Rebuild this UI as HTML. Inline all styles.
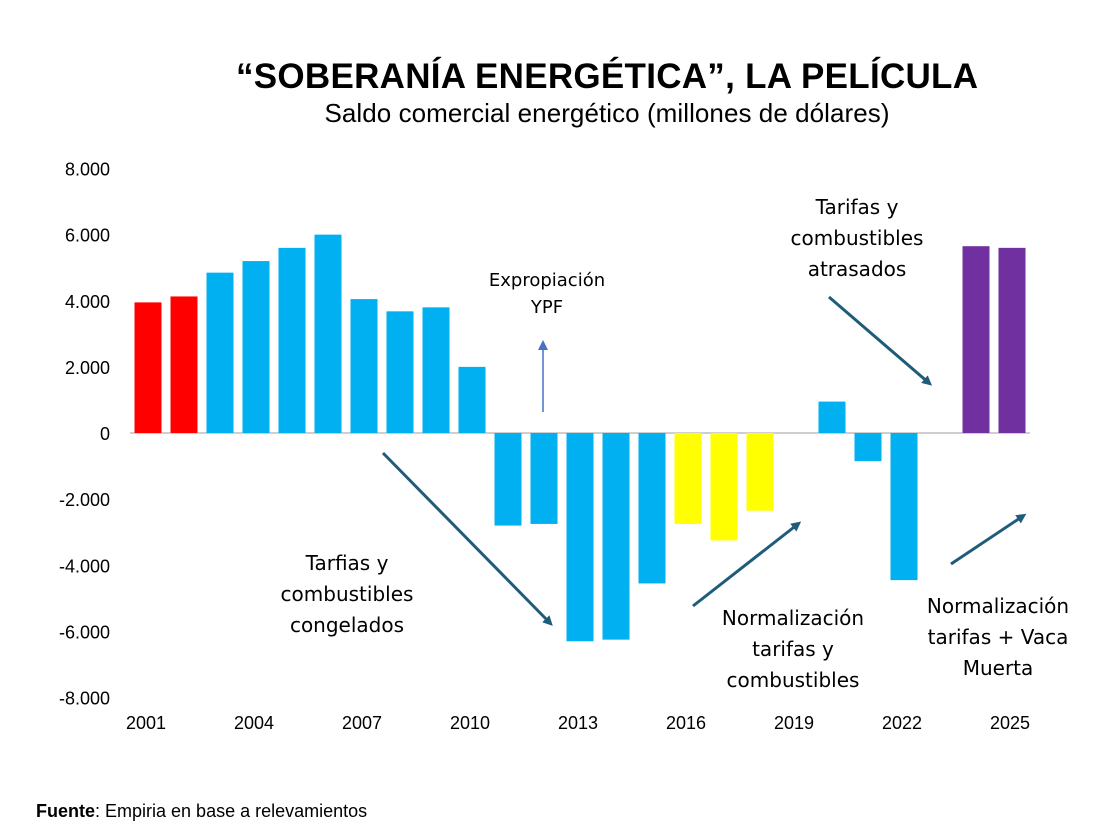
<!DOCTYPE html>
<html><head><meta charset="utf-8"><style>
body{margin:0;background:#fff;}
svg text{font-family:"Liberation Sans","DejaVu Sans",sans-serif;}
svg .ann{font-family:"DejaVu Sans","Liberation Sans",sans-serif;}
</style></head><body>
<svg width="1096" height="830" viewBox="0 0 1096 830" xmlns="http://www.w3.org/2000/svg">
<defs>
<marker id="ah" markerWidth="10" markerHeight="10" refX="6" refY="5" orient="auto" markerUnits="userSpaceOnUse"><path d="M0,0 L10,5 L0,10 z" fill="#1F5C7A"/></marker>
<marker id="ahb" markerWidth="10" markerHeight="12" refX="6" refY="5" orient="auto" markerUnits="userSpaceOnUse"><path d="M0,0 L10,5 L0,10 z" fill="#4472C4"/></marker>
</defs>
<text x="607" y="88" text-anchor="middle" font-size="35" font-weight="bold" textLength="742">“SOBERANÍA ENERGÉTICA”, LA PELÍCULA</text>
<text x="607" y="122" text-anchor="middle" font-size="26" textLength="565">Saldo comercial energético (millones de dólares)</text>
<g id="yaxis"></g>
<g id="xaxis"></g>
<line x1="130" y1="433" x2="1030" y2="433" stroke="#BFBFBF" stroke-width="1.5"/>
<g id="bars"></g>
<line x1="383" y1="453" x2="550" y2="623" stroke="#1F5C7A" stroke-width="3" marker-end="url(#ah)"/>
<line x1="693" y1="606" x2="798" y2="524" stroke="#1F5C7A" stroke-width="3" marker-end="url(#ah)"/>
<line x1="829" y1="297" x2="929" y2="383" stroke="#1F5C7A" stroke-width="3" marker-end="url(#ah)"/>
<line x1="951" y1="564" x2="1023" y2="516" stroke="#1F5C7A" stroke-width="3" marker-end="url(#ah)"/>
<line x1="543" y1="412" x2="543" y2="344" stroke="#4472C4" stroke-width="1.5" marker-end="url(#ahb)"/>
<g class="ann" font-size="20" text-anchor="middle">
<text class="ann" x="547" y="286" font-size="18"><tspan x="547">Expropiación</tspan><tspan x="547" dy="27">YPF</tspan></text>
<text class="ann" x="857" y="214"><tspan x="857">Tarifas  y</tspan><tspan x="857" dy="31">combustibles</tspan><tspan x="857" dy="31">atrasados</tspan></text>
<text class="ann" x="347" y="570"><tspan x="347">Tarfias y</tspan><tspan x="347" dy="31">combustibles</tspan><tspan x="347" dy="31">congelados</tspan></text>
<text class="ann" x="793" y="625"><tspan x="793">Normalización</tspan><tspan x="793" dy="31">tarifas y</tspan><tspan x="793" dy="31">combustibles</tspan></text>
<text class="ann" x="998" y="613"><tspan x="998">Normalización</tspan><tspan x="998" dy="31">tarifas + Vaca</tspan><tspan x="998" dy="31">Muerta</tspan></text>
</g>
<text x="36" y="817" font-size="18"><tspan font-weight="bold">Fuente</tspan>: Empiria en base a relevamientos</text>
</svg>
<script>
const years=[2001,2002,2003,2004,2005,2006,2007,2008,2009,2010,2011,2012,2013,2014,2015,2016,2017,2018,2019,2020,2021,2022,2023,2024,2025];
const values=[3950,4130,4850,5200,5600,6000,4050,3680,3800,2000,-2800,-2750,-6300,-6250,-4550,-2750,-3250,-2350,0,950,-850,-4450,0,5650,5600];
const colors=["#FF0000","#FF0000","#00B0F0","#00B0F0","#00B0F0","#00B0F0","#00B0F0","#00B0F0","#00B0F0","#00B0F0","#00B0F0","#00B0F0","#00B0F0","#00B0F0","#00B0F0","#FFFF00","#FFFF00","#FFFF00","#00B0F0","#00B0F0","#00B0F0","#00B0F0","#00B0F0","#7030A0","#7030A0"];
const yTicks=[8000,6000,4000,2000,0,-2000,-4000,-6000,-8000];
const yTickLabels=["8.000","6.000","4.000","2.000","0","-2.000","-4.000","-6.000","-8.000"];
const xTickYears=[2001,2004,2007,2010,2013,2016,2019,2022,2025];
const NS="http://www.w3.org/2000/svg";
function y(v){return 433-v*(264.5/8000);}
function x(yr){return 148+(yr-2001)*36;}
const bw=27;
const bg=document.getElementById('bars');
years.forEach((yr,i)=>{const v=values[i];if(v===0)return;
 const r=document.createElementNS(NS,'rect');
 r.setAttribute('x',x(yr)-bw/2);r.setAttribute('y',Math.min(y(v),y(0)));
 r.setAttribute('width',bw);r.setAttribute('height',Math.abs(y(v)-y(0)));
 r.setAttribute('fill',colors[i]);
 
 
 bg.appendChild(r);});
const ya=document.getElementById('yaxis');
yTicks.forEach((t,i)=>{const e=document.createElementNS(NS,'text');
 e.setAttribute('x',110);e.setAttribute('y',y(t)+7);e.setAttribute('text-anchor','end');e.setAttribute('font-size','18');
 e.textContent=yTickLabels[i];
 
 
 ya.appendChild(e);});
const xa=document.getElementById('xaxis');
xTickYears.forEach(yr=>{const e=document.createElementNS(NS,'text');
 e.setAttribute('x',x(yr)-2);e.setAttribute('y',729);e.setAttribute('text-anchor','middle');e.setAttribute('font-size','18');
 e.textContent=yr;
 
 
 xa.appendChild(e);});
</script>
</body></html>
